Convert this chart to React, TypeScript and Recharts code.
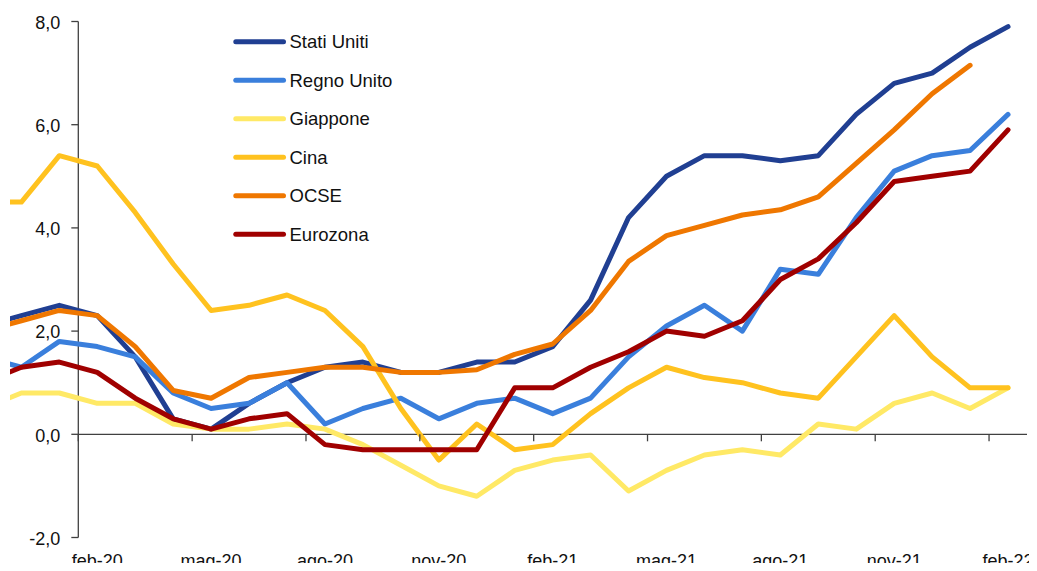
import React from 'react';
import { LineChart, Line, XAxis, YAxis, ReferenceLine, ReferenceDot, Legend } from 'recharts';

// Months: index in chart = position - 1 (nov-19 = -1, dic-19 = 0, ... feb-22 = 26)
const months = [
  'nov-19', 'dic-19', 'gen-20', 'feb-20', 'mar-20', 'apr-20', 'mag-20', 'giu-20', 'lug-20', 'ago-20',
  'set-20', 'ott-20', 'nov-20', 'dic-20', 'gen-21', 'feb-21', 'mar-21', 'apr-21', 'mag-21', 'giu-21',
  'lug-21', 'ago-21', 'set-21', 'ott-21', 'nov-21', 'dic-21', 'gen-22', 'feb-22',
];

const statiUniti = [2.1, 2.3, 2.5, 2.3, 1.5, 0.3, 0.1, 0.6, 1.0, 1.3, 1.4, 1.2, 1.2, 1.4, 1.4, 1.7, 2.6, 4.2, 5.0, 5.4, 5.4, 5.3, 5.4, 6.2, 6.8, 7.0, 7.5, 7.9];
const regnoUnito = [1.5, 1.3, 1.8, 1.7, 1.5, 0.8, 0.5, 0.6, 1.0, 0.2, 0.5, 0.7, 0.3, 0.6, 0.7, 0.4, 0.7, 1.5, 2.1, 2.5, 2.0, 3.2, 3.1, 4.2, 5.1, 5.4, 5.5, 6.2];
const giappone = [0.5, 0.8, 0.8, 0.6, 0.6, 0.2, 0.1, 0.1, 0.2, 0.1, -0.2, -0.6, -1.0, -1.2, -0.7, -0.5, -0.4, -1.1, -0.7, -0.4, -0.3, -0.4, 0.2, 0.1, 0.6, 0.8, 0.5, 0.9];
const cina = [4.5, 4.5, 5.4, 5.2, 4.3, 3.3, 2.4, 2.5, 2.7, 2.4, 1.7, 0.5, -0.5, 0.2, -0.3, -0.2, 0.4, 0.9, 1.3, 1.1, 1.0, 0.8, 0.7, 1.5, 2.3, 1.5, 0.9, 0.9];
const ocse = [2.0, 2.2, 2.4, 2.3, 1.7, 0.85, 0.7, 1.1, 1.2, 1.3, 1.3, 1.2, 1.2, 1.25, 1.55, 1.75, 2.4, 3.35, 3.85, 4.05, 4.25, 4.35, 4.6, 5.25, 5.9, 6.6, 7.15, null];
const eurozona = [1.0, 1.3, 1.4, 1.2, 0.7, 0.3, 0.1, 0.3, 0.4, -0.2, -0.3, -0.3, -0.3, -0.3, 0.9, 0.9, 1.3, 1.6, 2.0, 1.9, 2.2, 3.0, 3.4, 4.1, 4.9, 5.0, 5.1, 5.9];

const xTickLabels = ['feb-20', 'mag-20', 'ago-20', 'nov-20', 'feb-21', 'mag-21', 'ago-21', 'nov-21', 'feb-22'];
const yTicks = [-2, 0, 2, 4, 6, 8];

const series = [
  { key: 'us', name: 'Stati Uniti', color: '#203f92', values: statiUniti },
  { key: 'uk', name: 'Regno Unito', color: '#3a7fdc', values: regnoUnito },
  { key: 'jp', name: 'Giappone', color: '#ffe966', values: giappone },
  { key: 'cn', name: 'Cina', color: '#ffc21f', values: cina },
  { key: 'oecd', name: 'OCSE', color: '#ef7700', values: ocse },
  { key: 'ez', name: 'Eurozona', color: '#a00000', values: eurozona },
];

const data = months.map((m, k) => {
  const row: any = { i: k - 1, m };
  series.forEach((s) => { row[s.key] = s.values[k]; });
  return row;
});

const idxOf = (label: string) => months.indexOf(label) - 1;
const xTickPos = xTickLabels.map(idxOf);
const xTickMarks = xTickPos.map((p) => p - 0.5);
const yAxisAt = xTickPos[0] - 0.5;

const X_MIN = -0.3;
const X_MAX = 26.5;

const FONT = '"Liberation Sans", Arial, sans-serif';
const AXIS_FONT_SIZE = 18;
const LEGEND_FONT_SIZE = 18.5;
const TEXT = '#111111';
const AXIS = '#404040';

const fmtY = (v: number) => v.toFixed(1).replace('.', ',');

const XTickMark = (props: any) => (
  <line x1={props.cx} x2={props.cx} y1={props.cy} y2={props.cy + 7} stroke={AXIS} strokeWidth={1.3} />
);

const makeYTick = (label: string) => (props: any) => (
  <g>
    <line x1={props.cx - 7} x2={props.cx} y1={props.cy} y2={props.cy} stroke={AXIS} strokeWidth={1.3} />
    <text x={props.cx - 18} y={props.cy} dy="0.4em" textAnchor="end" fontFamily={FONT} fontSize={AXIS_FONT_SIZE} fill={TEXT}>
      {label}
    </text>
  </g>
);

const renderLegend = () => {
  const rowH = 38.5;
  return (
    <svg width={220} height={240} style={{ display: 'block' }}>
      {series.map((s, k) => (
        <g key={s.key} transform={`translate(0, ${k * rowH})`}>
          <line x1={7.8} x2={55.5} y1={19.7} y2={19.7} stroke={s.color} strokeWidth={5} strokeLinecap="round" />
          <text x={61.5} y={19.7} dy="0.36em" fontFamily={FONT} fontSize={LEGEND_FONT_SIZE} fill={TEXT}>
            {s.name}
          </text>
        </g>
      ))}
    </svg>
  );
};

export default function App() {
  return (
    <div style={{ width: 1029, height: 563, marginBottom: -8, marginRight: -8 }}>
      <LineChart
        width={1029}
        height={563}
        data={data}
        margin={{ top: 13.5, right: 10, left: 2, bottom: 3.5 }}
      >
        <XAxis
          xAxisId={0}
          type="number"
          dataKey="i"
          domain={[X_MIN, X_MAX]}
          allowDataOverflow
          ticks={xTickPos}
          interval={0}
          tickFormatter={(v: number) => months[v + 1]}
          axisLine={false}
          tickLine={false}
          tickSize={6}
          tickMargin={11}
          height={30}
          tick={{ fill: TEXT, fontSize: AXIS_FONT_SIZE, fontFamily: FONT }}
        />
        <YAxis yAxisId={0} hide type="number" domain={[-2, 8]} ticks={yTicks} allowDataOverflow />
        <ReferenceLine x={yAxisAt} stroke={AXIS} strokeWidth={1.3} />
        <ReferenceLine
          segment={[{ x: yAxisAt, y: 0 }, { x: X_MAX, y: 0 }]}
          stroke={AXIS}
          strokeWidth={1.3}
        />
        {xTickMarks.map((p) => (
          <ReferenceDot key={'xt' + p} x={p} y={0} r={0} shape={XTickMark} />
        ))}
        {yTicks.map((v) => (
          <ReferenceDot key={'yt' + v} x={yAxisAt} y={v} r={0} shape={makeYTick(fmtY(v))} />
        ))}
        {series.map((s) => (
          <Line
            key={s.key}
            type="linear"
            dataKey={s.key}
            name={s.name}
            stroke={s.color}
            strokeWidth={5}
            strokeLinecap="round"
            strokeLinejoin="round"
            dot={false}
            activeDot={false}
            isAnimationActive={false}
          />
        ))}
        <Legend
          layout="vertical"
          align="center"
          verticalAlign="middle"
          content={renderLegend}
          wrapperStyle={{ left: 220, top: 14, width: 220, height: 240 }}
        />
      </LineChart>
    </div>
  );
}
